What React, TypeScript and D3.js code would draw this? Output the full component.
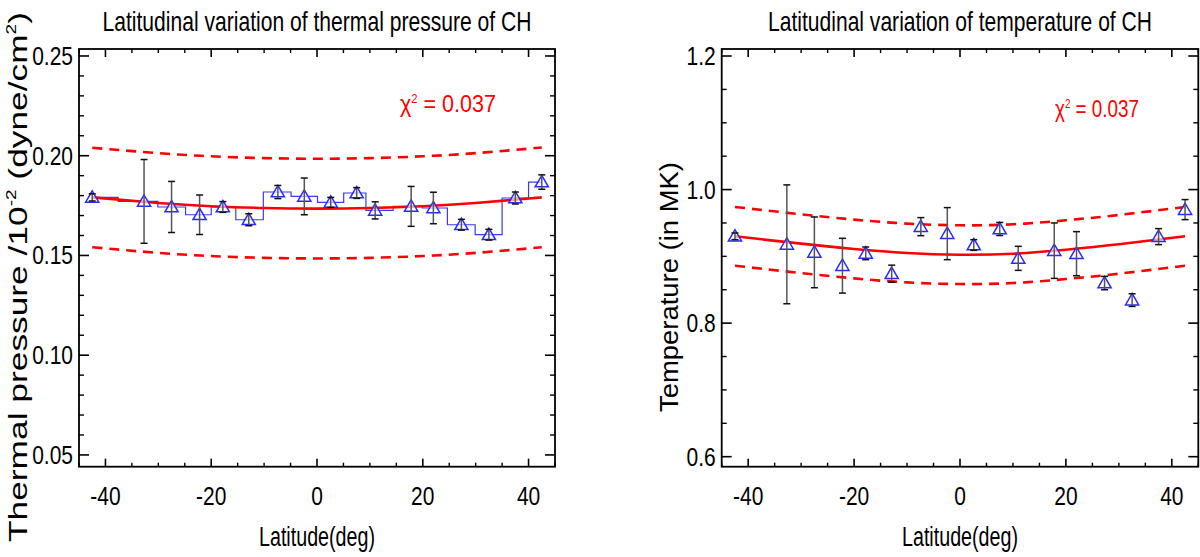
import React from "react";
import * as d3 from "d3";

// ---------- data ----------
const LATITUDES = [-42.5, -32.7, -27.5, -22.2, -17.8, -12.9, -7.4, -2.4, 2.6, 7.5, 11.0, 17.8, 22.0, 27.3, 32.5, 37.5, 42.5];

const PRESSURE = [0.1791, 0.1771, 0.1743, 0.1704, 0.1743, 0.1679, 0.1818, 0.1796, 0.1766, 0.1813, 0.1726, 0.1746, 0.1738, 0.1654, 0.1604, 0.1788, 0.1868];
const PRESSURE_ERR = [0.0018, 0.021, 0.0128, 0.0099, 0.0027, 0.003, 0.0033, 0.0092, 0.0025, 0.0027, 0.0043, 0.01, 0.0079, 0.0027, 0.0027, 0.003, 0.0036];

const TEMPERATURE = [0.930, 0.918, 0.906, 0.886, 0.9045, 0.874, 0.9445, 0.934, 0.917, 0.941, 0.897, 0.9085, 0.904, 0.860, 0.8345, 0.9295, 0.970];
const TEMPERATURE_ERR = [0.005, 0.089, 0.053, 0.041, 0.0095, 0.0128, 0.0135, 0.039, 0.008, 0.0098, 0.018, 0.0415, 0.033, 0.01, 0.0095, 0.012, 0.015];

const FIT_LAT = [-42.5, -30, -20, -10, 0, 10, 20, 30, 42.5];
const P_FIT = [0.1791, 0.1763, 0.1747, 0.1738, 0.1735, 0.1738, 0.1747, 0.1763, 0.1791];
const P_UPPER = [0.2040, 0.2013, 0.1997, 0.1988, 0.1985, 0.1988, 0.1997, 0.2013, 0.2041];
const P_LOWER = [0.1541, 0.1513, 0.1497, 0.1488, 0.1485, 0.1488, 0.1497, 0.1513, 0.1541];

const T_FIT = [0.930, 0.919, 0.911, 0.905, 0.9025, 0.904, 0.910, 0.918, 0.930];
const T_UPPER = [0.974, 0.963, 0.955, 0.949, 0.9465, 0.948, 0.954, 0.962, 0.974];
const T_LOWER = [0.886, 0.875, 0.867, 0.861, 0.8585, 0.860, 0.866, 0.874, 0.886];

const X_MAJOR = [-40, -20, 0, 20, 40];
const X_MINOR = [-45, -35, -30, -25, -15, -10, -5, 5, 10, 15, 25, 30, 35, 45];
const P_MAJOR = [0.05, 0.1, 0.15, 0.2, 0.25];
const P_TICK_LABELS = ["0.05", "0.10", "0.15", "0.20", "0.25"];
const T_MAJOR = [0.6, 0.8, 1.0, 1.2];
const T_TICK_LABELS = ["0.6", "0.8", "1.0", "1.2"];

const FONT = "'Liberation Sans', Arial, Helvetica, sans-serif";
const TOP = 49;
const BOTTOM = 466.7;

type PanelProps = {
  left: number;
  right: number;
  yDomain: [number, number];
  yMajor: number[];
  yLabels: string[];
  yMinorStep: number;
  values: number[];
  errors: number[];
  fit: number[];
  upper: number[];
  lower: number[];
  step: boolean;
  title: string;
  titleLen: number;
  chiX: number;
  chiY: number;
  chiLen: number;
};

function Panel(p: PanelProps) {
  const x = d3.scaleLinear().domain([-45, 45]).range([p.left, p.right]);
  const y = d3.scaleLinear().domain(p.yDomain).range([BOTTOM, TOP]);
  const [y0, y1] = p.yDomain;
  const minor: number[] = [];
  const start = Math.ceil(y0 / p.yMinorStep - 1e-6);
  for (let k = start; k * p.yMinorStep <= y1 + 1e-9; k++) {
    const v = +(k * p.yMinorStep).toFixed(4);
    if (!p.yMajor.some((m) => Math.abs(m - v) < 1e-6)) minor.push(v);
  }
  const pts = LATITUDES.map((lat, i) => ({ lat, v: p.values[i], e: p.errors[i] }));
  const curve = (arr: number[]) =>
    d3
      .line<number>()
      .x((_, i) => x(FIT_LAT[i]))
      .y((d) => y(d))
      .curve(d3.curveNatural)(arr) as string;
  const stepLine = d3
    .line<{ lat: number; v: number }>()
    .x((d) => x(d.lat))
    .y((d) => y(d.v))
    .curve(d3.curveStep)(pts) as string;
  const tri = d3.symbol(d3.symbolTriangle, 75)() as string;
  const cx = (p.left + p.right) / 2;
  const sx = 0.84;
  return (
    <g>
      <text x={cx} y={31} textAnchor="middle" fontFamily={FONT} fontSize={28} textLength={p.titleLen} lengthAdjust="spacingAndGlyphs" fill="#000">
        {p.title}
      </text>
      {/* data */}
      {p.step && <path d={stepLine} fill="none" stroke="#3a3aee" strokeWidth={1.2} />}
      <path d={curve(p.upper)} fill="none" stroke="#ff0000" strokeWidth={2.6} strokeDasharray="10,7" />
      <path d={curve(p.lower)} fill="none" stroke="#ff0000" strokeWidth={2.6} strokeDasharray="10,7" />
      <path d={curve(p.fit)} fill="none" stroke="#ff0000" strokeWidth={2.6} />
      {pts.map((d, i) => (
        <g key={i}>
          <path d={tri} transform={`translate(${x(d.lat)},${y(d.v) + 1})`} fill="#ffffff" fillOpacity={0.6} stroke="#2a2aff" strokeWidth={1.5} />
          <line x1={x(d.lat)} x2={x(d.lat)} y1={y(d.v - d.e)} y2={y(d.v + d.e)} stroke="#555" strokeWidth={1.5} />
          <line x1={x(d.lat) - 3.5} x2={x(d.lat) + 3.5} y1={y(d.v - d.e)} y2={y(d.v - d.e)} stroke="#111" strokeWidth={1.5} />
          <line x1={x(d.lat) - 3.5} x2={x(d.lat) + 3.5} y1={y(d.v + d.e)} y2={y(d.v + d.e)} stroke="#111" strokeWidth={1.5} />
        </g>
      ))}
      {/* axes frame */}
      <rect x={p.left} y={TOP} width={p.right - p.left} height={BOTTOM - TOP} fill="none" stroke="#000" strokeWidth={1.8} />
      {X_MAJOR.map((t) => (
        <g key={"xm" + t}>
          <line x1={x(t)} x2={x(t)} y1={BOTTOM} y2={BOTTOM - 8} stroke="#000" strokeWidth={1.6} />
          <line x1={x(t)} x2={x(t)} y1={TOP} y2={TOP + 8} stroke="#000" strokeWidth={1.6} />
          <g transform={`translate(${x(t)},505) scale(${sx},1)`}>
            <text textAnchor="middle" fontFamily={FONT} fontSize={25} fill="#000">
              {t}
            </text>
          </g>
        </g>
      ))}
      {X_MINOR.map((t) => (
        <g key={"xn" + t}>
          <line x1={x(t)} x2={x(t)} y1={BOTTOM} y2={BOTTOM - 4} stroke="#000" strokeWidth={1.4} />
          <line x1={x(t)} x2={x(t)} y1={TOP} y2={TOP + 4} stroke="#000" strokeWidth={1.4} />
        </g>
      ))}
      {p.yMajor.map((t, i) => (
        <g key={"ym" + t}>
          <line x1={p.left} x2={p.left + 10} y1={y(t)} y2={y(t)} stroke="#000" strokeWidth={1.6} />
          <line x1={p.right} x2={p.right - 10} y1={y(t)} y2={y(t)} stroke="#000" strokeWidth={1.6} />
          <g transform={`translate(${p.left - 6},${y(t) + 9}) scale(${sx},1)`}>
            <text textAnchor="end" fontFamily={FONT} fontSize={25} fill="#000">
              {p.yLabels[i]}
            </text>
          </g>
        </g>
      ))}
      {minor.map((t) => (
        <g key={"yn" + t}>
          <line x1={p.left} x2={p.left + 5} y1={y(t)} y2={y(t)} stroke="#000" strokeWidth={1.4} />
          <line x1={p.right} x2={p.right - 5} y1={y(t)} y2={y(t)} stroke="#000" strokeWidth={1.4} />
        </g>
      ))}
      <text x={cx} y={546} textAnchor="middle" fontFamily={FONT} fontSize={27} textLength={116} lengthAdjust="spacingAndGlyphs" fill="#000">
        Latitude(deg)
      </text>
      <text x={p.chiX} y={p.chiY} fontFamily={FONT} fontSize={23} textLength={p.chiLen} lengthAdjust="spacingAndGlyphs" fill="#ff0000">
        χ<tspan fontSize={12} dy={-9}>2</tspan>
        <tspan dy={9}> = 0.037</tspan>
      </text>
    </g>
  );
}

export default function App() {
  return (
    <svg
      width={1200}
      height={557}
      viewBox="0 0 1200 557"
      style={{ position: "absolute", left: 0, top: 0, background: "#fff" }}
    >
      <rect x={0} y={0} width={1200} height={557} fill="#fff" />
      <Panel
        left={79}
        right={555}
        yDomain={[0.0441, 0.2535]}
        yMajor={P_MAJOR}
        yLabels={P_TICK_LABELS}
        yMinorStep={0.01}
        values={PRESSURE}
        errors={PRESSURE_ERR}
        fit={P_FIT}
        upper={P_UPPER}
        lower={P_LOWER}
        step={true}
        title="Latitudinal variation of thermal pressure of CH"
        titleLen={429}
        chiX={400}
        chiY={112}
        chiLen={96}
      />
      <Panel
        left={721.7}
        right={1198.3}
        yDomain={[0.585, 1.2105]}
        yMajor={T_MAJOR}
        yLabels={T_TICK_LABELS}
        yMinorStep={0.05}
        values={TEMPERATURE}
        errors={TEMPERATURE_ERR}
        fit={T_FIT}
        upper={T_UPPER}
        lower={T_LOWER}
        step={false}
        title="Latitudinal variation of temperature of CH"
        titleLen={384}
        chiX={1055}
        chiY={117}
        chiLen={84}
      />
      {/* left y-axis label */}
      <text
        transform="translate(27,277) rotate(-90)"
        textAnchor="middle"
        fontFamily={FONT}
        fontSize={26}
        textLength={530}
        lengthAdjust="spacingAndGlyphs"
        fill="#000"
      >
        Thermal pressure /10<tspan fontSize={14} dy={-11}>-2</tspan>
        <tspan dy={11}> (dyne/cm</tspan>
        <tspan fontSize={14} dy={-11}>2</tspan>
        <tspan dy={11}>)</tspan>
      </text>
      {/* right y-axis label */}
      <text
        transform="translate(678,287) rotate(-90)"
        textAnchor="middle"
        fontFamily={FONT}
        fontSize={26}
        textLength={250}
        lengthAdjust="spacingAndGlyphs"
        fill="#000"
      >
        Temperature (in MK)
      </text>
    </svg>
  );
}
